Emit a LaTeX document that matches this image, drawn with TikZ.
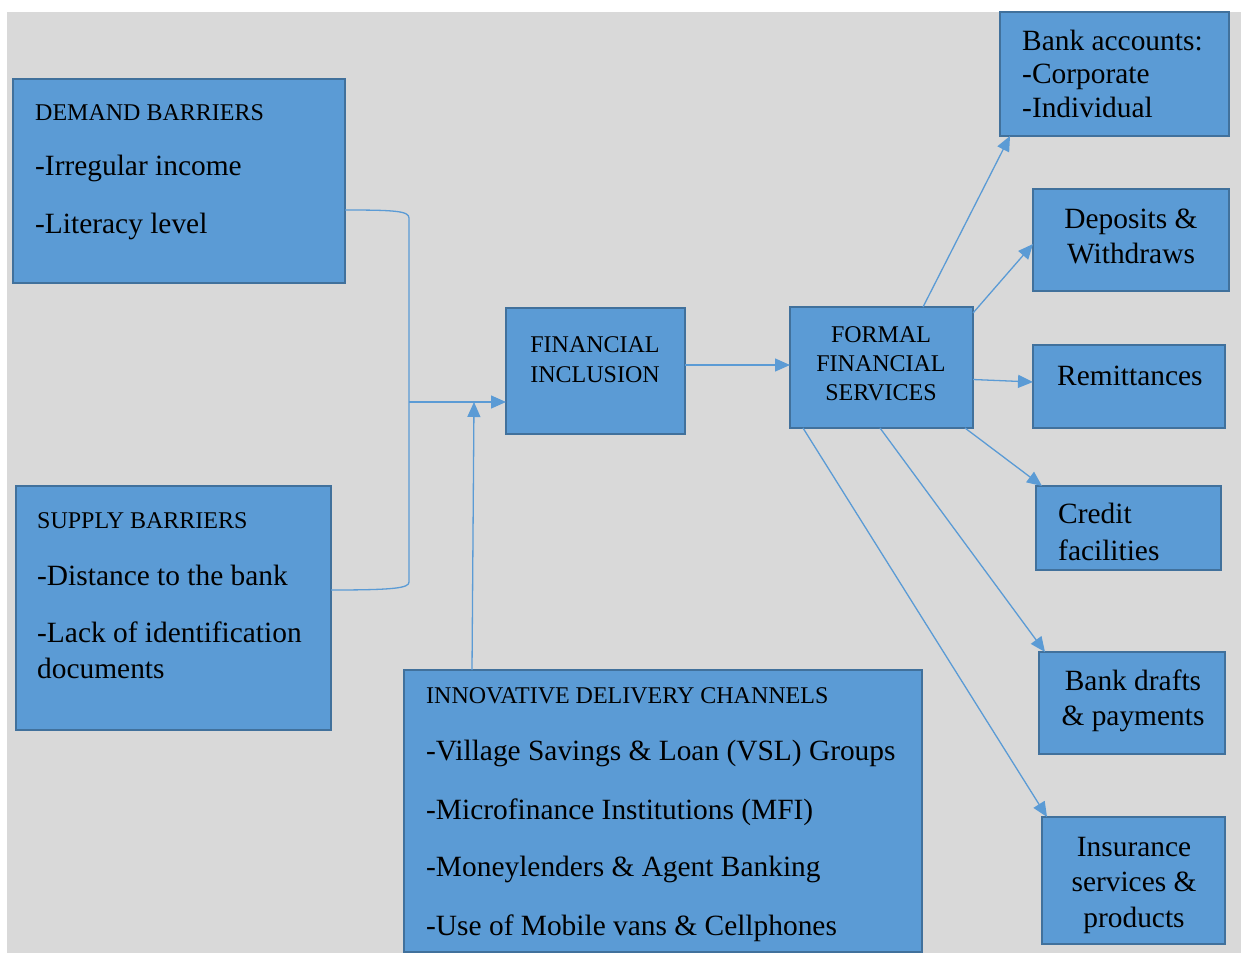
\documentclass[tikz,border=0pt]{standalone}
\usepackage{fontspec}
\setmainfont{Liberation Serif}
\usetikzlibrary{arrows.meta,calc}
\definecolor{boxfill}{RGB}{91,155,213}
\definecolor{boxline}{RGB}{65,113,156}
\definecolor{bggray}{RGB}{217,217,217}
\begin{document}
\begin{tikzpicture}[x=1pt,y=-1pt,
  box/.style={draw=boxline, line width=2pt, fill=boxfill, inner sep=0pt, outer sep=0pt, anchor=north west},
  body/.style={font=\fontsize{29.4}{35.5}\selectfont, inner sep=0pt, text=black},
  head/.style={font=\fontsize{24}{30}\selectfont, inner sep=0pt, text=black},
  conn/.style={draw=boxfill, line width=1.3pt},
  arr/.style={conn, -{Triangle[length=15pt,width=13pt]}}]
\useasboundingbox (0,0) rectangle (1241,953);
\fill[white] (0,0) rectangle (1241,953);
\fill[bggray] (7,12) rectangle (1241,953);

% boxes
\node[box, minimum width=332pt, minimum height=204pt] (demand) at (13,79) {};
\node[box, minimum width=315pt, minimum height=244pt] (supply) at (16,486) {};
\node[box, minimum width=179pt, minimum height=126pt] (fi) at (506,308) {};
\node[box, minimum width=183pt, minimum height=121pt] (formal) at (790,307) {};
\node[box, minimum width=518pt, minimum height=282pt] (innov) at (404,670) {};
\node[box, minimum width=229pt, minimum height=124pt] (bankacc) at (1000,12) {};
\node[box, minimum width=196pt, minimum height=102pt] (deposits) at (1033,189) {};
\node[box, minimum width=192pt, minimum height=83pt] (remit) at (1033,345) {};
\node[box, minimum width=185pt, minimum height=84pt] (credit) at (1036,486) {};
\node[box, minimum width=186pt, minimum height=102pt] (drafts) at (1039,652) {};
\node[box, minimum width=183pt, minimum height=127pt] (insur) at (1042,817) {};

% connectors
\coordinate (join) at (409,402);
\coordinate (merge) at (474,402);
\draw[conn] ($(demand.south east)+(0,-73)$) .. controls (395,210) and (409,211) .. (409,218)
  -- (409,582) .. controls (409,588) and (395,590) .. ($(supply.north east)+(0,104)$);
\draw[arr] (join) -- ($(fi.south west)+(0,-32)$);
\draw[arr] ($(innov.north west)+(68,0)$) -- (merge);
\draw[arr] ($(fi.east)+(0,-6)$) -- ($(formal.west)+(0,-2.5)$);
\draw[arr] ($(formal.north west)+(133,0)$) -- ($(bankacc.south west)+(10,0)$);
\draw[arr] ($(formal.north east)+(0,6)$) -- ($(deposits.west)+(0,4)$);
\draw[arr] ($(formal.east)+(0,12)$) -- ($(remit.west)+(0,-4.5)$);
\draw[arr] ($(formal.south east)+(-8,0)$) -- ($(credit.north west)+(6,0)$);
\draw[arr] ($(formal.south)+(-1.5,0)$) -- ($(drafts.north west)+(6,0)$);
\draw[arr] ($(formal.south west)+(13,0)$) -- ($(insur.north west)+(5,0)$);

% texts (multi-line nodes: base anchor = last line's baseline)
\node[head, anchor=base west] (demandh) at (35,120) {DEMAND BARRIERS};
\node[body, anchor=base west] (demand1) at (35,175) {-Irregular income};
\node[body, anchor=base west] (demand2) at (35,233) {-Literacy level};

\node[head, anchor=base west] (supplyh) at (37,528) {SUPPLY BARRIERS};
\node[body, anchor=base west] (supply1) at (37,585) {-Distance to the bank};
\node[body, anchor=base west, align=left, font=\fontsize{29.4}{36}\selectfont] (supply2) at (37,678) {-Lack of identification\\documents};

\node[head, anchor=base, align=center, font=\fontsize{24}{30}\selectfont] (fit) at (595,382) {FINANCIAL\\INCLUSION};
\node[head, anchor=base, align=center, font=\fontsize{24}{29}\selectfont] (formalt) at (881,400) {FORMAL\\FINANCIAL\\SERVICES};

\node[head, anchor=base west] (innovh) at (426,703) {INNOVATIVE DELIVERY CHANNELS};
\node[body, anchor=base west] (innov1) at (426,760) {-Village Savings \& Loan (VSL) Groups};
\node[body, anchor=base west] (innov2) at (426,819) {-Microfinance Institutions (MFI)};
\node[body, anchor=base west] (innov3) at (426,876) {-Moneylenders \& Agent Banking};
\node[body, anchor=base west] (innov4) at (426,935) {-Use of Mobile vans \& Cellphones};

\node[body, anchor=base west, align=left, font=\fontsize{29.4}{33.5}\selectfont] (bankacct) at (1022,117) {Bank accounts:\\-Corporate\\-Individual};
\node[body, anchor=base, align=center, font=\fontsize{29.4}{35}\selectfont] (depositst) at (1131,263) {Deposits \&\\Withdraws};
\node[body, anchor=base west] (remitt) at (1057,385) {Remittances};
\node[body, anchor=base west, align=left, font=\fontsize{29.4}{37}\selectfont] (creditt) at (1058,560) {Credit\\facilities};
\node[body, anchor=base, align=center, font=\fontsize{29.4}{35}\selectfont] (draftst) at (1133,725) {Bank drafts\\\& payments};
\node[body, anchor=base, align=center, font=\fontsize{29.4}{35.5}\selectfont] (insurt) at (1134,927) {Insurance\\services \&\\products};
\end{tikzpicture}
\end{document}
